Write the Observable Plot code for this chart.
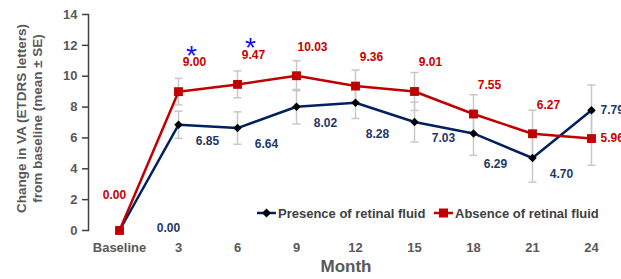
<!DOCTYPE html>
<html>
<head>
<meta charset="utf-8">
<script src="https://cdn.jsdelivr.net/npm/d3@7"></script>
<script src="https://cdn.jsdelivr.net/npm/@observablehq/plot@0.6"></script>
<style>
  body { margin: 0; background: white; }
  #wrap { position: relative; width: 621px; height: 279px; overflow: hidden; font-family: Arial, "Liberation Sans", sans-serif; }
  .leg { position: absolute; top: 205px; display: flex; align-items: center; font-size: 13px; font-weight: bold; color: #404040; white-space: nowrap; }
  .leg svg { margin-right: 2px; }
</style>
</head>
<body>
<div id="wrap"></div>
<script>
// ---- data ----
const months = ["Baseline", "3", "6", "9", "12", "15", "18", "21", "24"];
const presence = [0.00, 6.85, 6.64, 8.02, 8.28, 7.03, 6.29, 4.70, 7.79];
const presenceSE = [0, 0.88, 1.05, 1.12, 1.02, 1.29, 1.42, 1.56, 1.64];
const absence = [0.00, 9.00, 9.47, 10.03, 9.36, 9.01, 7.55, 6.27, 5.96];
const absenceSE = [0, 0.86, 0.87, 0.97, 1.04, 1.23, 1.25, 1.53, 1.73];
const significant = ["3", "6"];
const yTicks = [0, 2, 4, 6, 8, 10, 12, 14];
const seriesNames = ["Presence of retinal fluid", "Absence of retinal fluid"];

// ---- styles ----
const blue = "#002060", blueText = "#1F3864";
const red = "#C00000", redText = "#CC0000";
const grey = "#595959", errGrey = "#C8C8C8", axisCol = "#404040";
const font = "Arial, 'Liberation Sans', sans-serif";

const pres = months.map((m, i) => ({month: m, value: presence[i], se: presenceSE[i]}));
const abs = months.map((m, i) => ({month: m, value: absence[i], se: absenceSE[i]}));
const errs = [...pres, ...abs].filter(d => d.se > 0);
const caps = errs.flatMap(d => [{month: d.month, y: d.value - d.se}, {month: d.month, y: d.value + d.se}]);

const capSymbol = {draw(ctx, size) { const r = Math.sqrt(size / Math.PI); ctx.moveTo(-r, 0); ctx.lineTo(r, 0); }};
const isMid = d => d.month !== "Baseline" && d.month !== "24";
const lowBlue = ["12", "18"];
const isBlueStd = d => isMid(d) && !lowBlue.includes(d.month);
const fmt = d => d.value.toFixed(2);
const lab = {x: "month", y: "value", text: fmt, fontSize: 12, fontWeight: "bold"};

const chart = Plot.plot({
  width: 621, height: 279,
  marginLeft: 88, marginRight: 0, marginTop: 14, marginBottom: 49,
  style: {fontFamily: font, background: "white"},
  x: {type: "point", domain: months, padding: 0.5, axis: null},
  y: {domain: [0, 14], axis: null},
  marks: [
    Plot.axisY({ticks: yTicks, tickSize: 6, tickPadding: 5, stroke: axisCol, strokeWidth: 1.5, fill: grey, fontSize: 13, fontWeight: "bold", label: null}),
    Plot.axisX({tickSize: 0, tickPadding: 12, fill: grey, fontSize: 13, fontWeight: "bold", label: null}),
    Plot.frame({anchor: "left", stroke: axisCol, strokeWidth: 1.5}),
    Plot.ruleX(errs, {x: "month", y1: d => d.value - d.se, y2: d => d.value + d.se, stroke: errGrey, strokeWidth: 1.5}),
    Plot.dot(caps, {x: "month", y: "y", symbol: capSymbol, r: 4, fill: "none", stroke: errGrey, strokeWidth: 1.5}),
    Plot.line(pres, {x: "month", y: "value", stroke: blue, strokeWidth: 2.5}),
    Plot.dot(pres, {x: "month", y: "value", symbol: "diamond2", r: 3.8, fill: "black", stroke: "none"}),
    Plot.line(abs, {x: "month", y: "value", stroke: red, strokeWidth: 2.5}),
    Plot.dot(abs, {x: "month", y: "value", symbol: "square", r: 5, fill: red, stroke: "none"}),
    // data labels
    Plot.text(abs.filter(isMid), {...lab, dx: 16, dy: -29, fill: redText}),
    Plot.text(abs.filter(d => d.month === "Baseline"), {...lab, dx: -5, dy: -35, fill: redText}),
    Plot.text(abs.filter(d => d.month === "24"), {...lab, dx: 9, textAnchor: "start", fill: redText}),
    Plot.text(pres.filter(isBlueStd), {...lab, dx: 29, dy: 16, fill: blueText}),
    Plot.text(pres.filter(d => lowBlue.includes(d.month)), {...lab, dx: 22, dy: 31, fill: blueText}),
    Plot.text(pres.filter(d => d.month === "Baseline"), {...lab, dx: 49, dy: -2, fill: blueText}),
    Plot.text(pres.filter(d => d.month === "24"), {...lab, dx: 9, textAnchor: "start", fill: blueText}),
    // significance
    Plot.text(abs.filter(d => significant.includes(d.month)), {x: "month", y: "value", text: () => "*", dx: 13, dy: -36, fontSize: 28, fill: "#1010FF"}),
    // axis titles
    Plot.text(["Month"], {frameAnchor: "bottom", dx: -9, dy: 41, fontSize: 17, fontWeight: "bold", fill: grey}),
    Plot.text(["Change in VA (ETDRS letters)\nfrom baseline (mean ± SE)"], {frameAnchor: "left", textAnchor: "middle", rotate: -90, dx: -60, dy: -4, fontSize: 13.5, lineHeight: 1.185, fontWeight: "bold", fill: grey})
  ]
});

const wrap = document.getElementById("wrap");
wrap.appendChild(chart);

function legendItem(left, name, color, marker) {
  const div = document.createElement("div");
  div.className = "leg";
  div.style.left = left + "px";
  const m = marker === "square"
    ? `<rect x="5" y="3.5" width="9" height="9" fill="${color}"/>`
    : `<path d="M9.5 3.5 L14 8 L9.5 12.5 L5 8 Z" fill="black"/>`;
  div.innerHTML = `<svg width="19" height="16"><line x1="0" x2="19" y1="8" y2="8" stroke="${color}" stroke-width="2.5"/>${m}</svg><span>${name}</span>`;
  wrap.appendChild(div);
}
legendItem(257, seriesNames[0], blue, "diamond");
legendItem(434, seriesNames[1], red, "square");
</script>
</body>
</html>
